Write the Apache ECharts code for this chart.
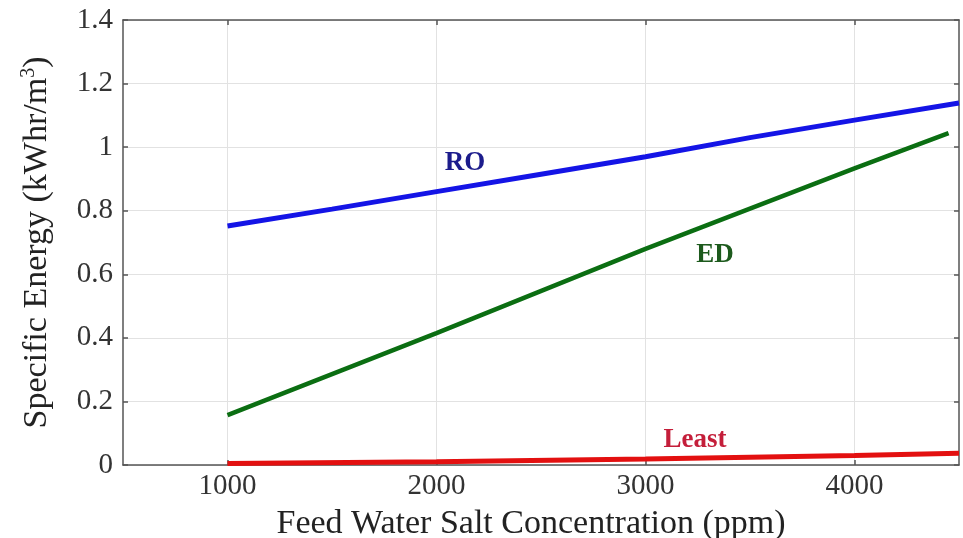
<!DOCTYPE html>
<html>
<head>
<meta charset="utf-8">
<script src="https://cdn.jsdelivr.net/npm/echarts@6/dist/echarts.min.js"></script>
<style>
  html, body { margin: 0; padding: 0; background: #fff; }
  #chart { width: 963px; height: 538px; }
</style>
</head>
<body>
<div id="chart"></div>
<script>
// ---- Data ----
const xTicks = [1000, 2000, 3000, 4000];
const yTicks = [0, 0.2, 0.4, 0.6, 0.8, 1, 1.2, 1.4];

const roX = [1000, 1500, 2000, 2500, 3000, 3500, 4000, 4500];
const roY = [0.752, 0.805, 0.86, 0.915, 0.97, 1.03, 1.085, 1.139];

const edX = [1000, 2000, 3000, 4000, 4450];
const edY = [0.157, 0.415, 0.68, 0.933, 1.044];

const leastX = [1000, 2000, 3000, 4000, 4500];
const leastY = [0.005, 0.01, 0.019, 0.03, 0.037];

const seriesNames = ['RO', 'ED', 'Least'];
const xTitle = 'Feed Water Salt Concentration (ppm)';

// ---- Build chart ----
const pairs = (xs, ys) => xs.map((x, i) => [x, ys[i]]);
const FONT = "'Liberation Serif', 'Times New Roman', serif";
const AXIS_COLOR = '#555';

const chart = echarts.init(document.getElementById('chart'), null, { renderer: 'canvas' });

const baseX = {
  type: 'value', min: 500, max: 4500,
  axisLine: { show: true, onZero: false, lineStyle: { color: AXIS_COLOR, width: 1.5 } },
  axisTick: { show: true, inside: true, length: 5, customValues: xTicks, lineStyle: { color: AXIS_COLOR, width: 1.5 } },
};
const baseY = {
  type: 'value', min: 0, max: 1.4, interval: 0.2,
  axisLine: { show: true, onZero: false, lineStyle: { color: AXIS_COLOR, width: 1.5 } },
  axisTick: { show: true, inside: true, length: 5, lineStyle: { color: AXIS_COLOR, width: 1.5 } },
};

function labelPoint(name, coord, color) {
  return {
    symbol: 'circle', symbolSize: 1, silent: true,
    itemStyle: { color: 'rgba(0,0,0,0)' },
    data: [{ coord: coord, value: name }],
    label: { show: true, position: 'inside', formatter: name, color: color,
             fontFamily: FONT, fontWeight: 'bold', fontSize: 27 }
  };
}

chart.setOption({
  backgroundColor: '#ffffff',
  animation: false,
  grid: { left: 123, right: 4, top: 20, bottom: 73, containLabel: false, outerBoundsMode: 'none' },
  xAxis: [
    Object.assign({}, baseX, {
      position: 'bottom',
      name: xTitle, nameLocation: 'middle', nameGap: 42,
      nameTextStyle: { fontFamily: FONT, fontSize: 34, color: '#222', padding: [0, 20, 0, 0] },
      axisLabel: { show: true, customValues: xTicks, margin: 7, fontFamily: FONT, fontSize: 29, color: '#333',
                   formatter: v => String(v) },
      splitLine: { show: true, lineStyle: { color: '#e2e2e2', width: 1 } }
    }),
    Object.assign({}, baseX, {
      position: 'top',
      axisLabel: { show: false },
      splitLine: { show: false }
    })
  ],
  yAxis: [
    Object.assign({}, baseY, {
      position: 'left',
      name: '{a|Specific Energy (kWhr/m}{s|3}{a|)}',
      nameLocation: 'middle', nameGap: 68,
      nameTextStyle: {
        rich: {
          a: { fontFamily: FONT, fontSize: 34, color: '#222' },
          s: { fontFamily: FONT, fontSize: 20, color: '#222', verticalAlign: 'top', padding: [0, 0, 16, 0] }
        }
      },
      axisLabel: { show: true, margin: 10, fontFamily: FONT, fontSize: 29, color: '#333' },
      splitLine: { show: true, lineStyle: { color: '#e2e2e2', width: 1 } }
    }),
    Object.assign({}, baseY, {
      position: 'right',
      axisLabel: { show: false },
      splitLine: { show: false }
    })
  ],
  series: [
    {
      name: seriesNames[0], type: 'line', xAxisIndex: 0, yAxisIndex: 0,
      data: pairs(roX, roY), showSymbol: false, symbol: 'none',
      lineStyle: { color: '#1414e6', width: 5 }, z: 3,
      markPoint: labelPoint(seriesNames[0], [2136, 0.95], '#1c1c8c')
    },
    {
      name: seriesNames[1], type: 'line', xAxisIndex: 0, yAxisIndex: 0,
      data: pairs(edX, edY), showSymbol: false, symbol: 'none',
      lineStyle: { color: '#0b6e12', width: 4.5 }, z: 3,
      markPoint: labelPoint(seriesNames[1], [3333, 0.66], '#1d5a1d')
    },
    {
      name: seriesNames[2], type: 'line', xAxisIndex: 0, yAxisIndex: 0,
      data: pairs(leastX, leastY), showSymbol: false, symbol: 'none',
      lineStyle: { color: '#e31010', width: 5 }, z: 3,
      markPoint: labelPoint(seriesNames[2], [3237, 0.079], '#c41e3a')
    }
  ]
});
</script>
</body>
</html>
